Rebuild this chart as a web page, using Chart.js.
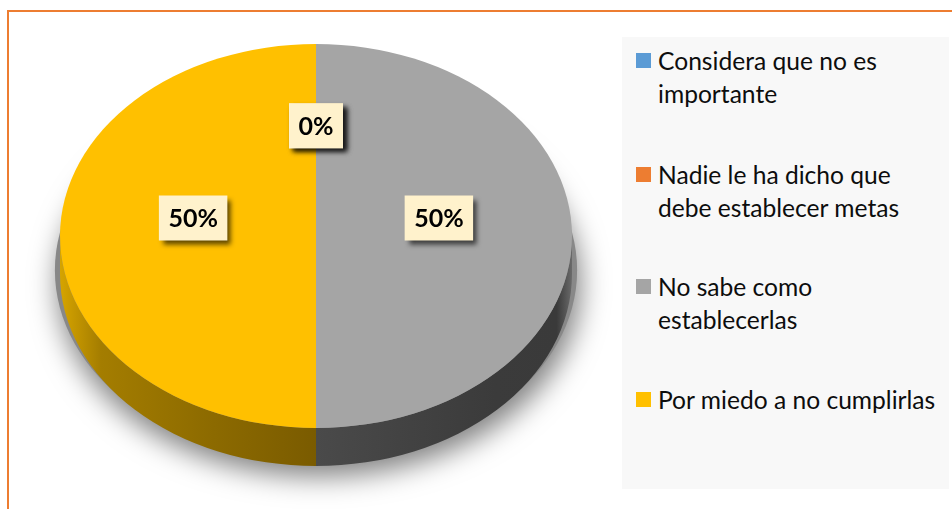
<!DOCTYPE html>
<html>
<head>
<meta charset="utf-8">
<script src="https://cdn.jsdelivr.net/npm/chart.js@4/dist/chart.umd.min.js"></script>
<style>
  html, body { margin: 0; padding: 0; background: #ffffff; }
  #wrap { position: relative; width: 952px; height: 509px; overflow: hidden; background: #ffffff; }
  #frame { position: absolute; left: 7px; top: 10px; width: 1000px; height: 600px;
           border-left: 2px solid #ED7D31; border-top: 2px solid #ED7D31; box-sizing: border-box; }
  #chart { position: absolute; left: 0; top: 0; }
  #legend { position: absolute; left: 622px; top: 37px; width: 327px; height: 452px; background: #F8F8F8;
            font-family: Lato, "Open Sans", sans-serif; font-size: 24.6px; color: #0d0d0d; }
  .item { position: absolute; left: 14px; line-height: 33px; white-space: nowrap; }
  .sw { position: absolute; left: 0; top: 9px; width: 15px; height: 15px; }
  .txt { position: absolute; left: 22px; top: 0; }
</style>
</head>
<body>
<div id="wrap">
  <div id="frame"></div>
  <canvas id="chart" width="952" height="509"></canvas>
  <div id="legend"></div>
</div>
<script>
// ---- data ----
const categories = [
  ['Considera que no es', 'importante'],
  ['Nadie le ha dicho que', 'debe establecer metas'],
  ['No sabe como', 'establecerlas'],
  ['Por miedo a no cumplirlas']
];
const values = [0, 0, 50, 50];
const colors = ['#5B9BD5', '#ED7D31', '#A5A5A5', '#FFC000'];
const sideColors = [
  ['#3f78ad', '#2f5f8c'],
  ['#c0601c', '#9a4a12'],
  ['#4a4a4a', '#3b3b3b'],
  ['#8c6a00', '#7a5b00']
];

// ---- layout of the 3D top face (screen pixels) ----
const PIE = { cx: 316, cy: 236, rx: 256, ry: 192, depth: 38 };
const LABEL = { frac: 0.48, lift: 18, padX: 9.5, h: 45, font: 'bold 25px Lato, "Open Sans", sans-serif' };

function applyTransform(ctx, arc) {
  const R = arc.outerRadius;
  ctx.translate(PIE.cx, PIE.cy);
  ctx.scale(PIE.rx / R, PIE.ry / R);
  ctx.translate(-arc.x, -arc.y);
}

const pie3d = {
  id: 'pie3d',
  beforeDatasetsDraw(chart) {
    const ctx = chart.ctx;
    const arcs = chart.getDatasetMeta(0).data;
    const a = arcs[0];
    const R = a.outerRadius, x = a.x, y = a.y;
    const d = PIE.depth * R / PIE.ry;
    ctx.save();
    applyTransform(ctx, a);
    // drop shadow under the pie
    ctx.save();
    ctx.shadowColor = 'rgba(0,0,0,0.5)';
    ctx.shadowBlur = 28;
    ctx.shadowOffsetX = 3;
    ctx.shadowOffsetY = 14;
    ctx.fillStyle = '#888';
    ctx.beginPath();
    ctx.ellipse(x, y + d * 0.9, R * 1.02, R * 1.0, 0, 0, Math.PI * 2);
    ctx.fill();
    ctx.restore();
    // side walls (front half only)
    arcs.forEach((arc, i) => {
      const s0 = arc.startAngle, e0 = arc.endAngle;
      if (e0 - s0 <= 0) return;
      for (let k = -1; k <= 1; k++) {
        const s = Math.max(s0 + 2 * Math.PI * k, 0);
        const e = Math.min(e0 + 2 * Math.PI * k, Math.PI);
        if (e <= s) continue;
        const g = ctx.createLinearGradient(x - R, 0, x + R, 0);
        if (i === 3) {
          g.addColorStop(0, '#d6a400');
          g.addColorStop(0.08, '#a47d00');
          g.addColorStop(0.3, sideColors[i][0]);
          g.addColorStop(0.5, sideColors[i][1]);
          g.addColorStop(1, sideColors[i][1]);
        } else if (i === 2) {
          g.addColorStop(0, sideColors[i][0]);
          g.addColorStop(0.5, sideColors[i][0]);
          g.addColorStop(0.85, sideColors[i][1]);
          g.addColorStop(0.97, '#3a3a3a');
          g.addColorStop(1, '#6a6a6a');
        } else {
          g.addColorStop(0, sideColors[i][0]);
          g.addColorStop(1, sideColors[i][1]);
        }
        ctx.fillStyle = g;
        ctx.beginPath();
        ctx.arc(x, y, R, s, e);
        ctx.arc(x, y + d, R, e, s, true);
        ctx.closePath();
        ctx.fill();
      }
    });
  },
  afterDatasetsDraw(chart) {
    chart.ctx.restore();
  },
  afterDraw(chart) {
    const ctx = chart.ctx;
    const arcs = chart.getDatasetMeta(0).data;
    const total = values.reduce((p, v) => p + v, 0);
    ctx.save();
    ctx.font = LABEL.font;
    ctx.textAlign = 'center';
    ctx.textBaseline = 'middle';
    arcs.forEach((arc, i) => {
      const R = arc.outerRadius;
      const mid = (arc.startAngle + arc.endAngle) / 2;
      const px = PIE.cx + Math.cos(mid) * R * LABEL.frac * PIE.rx / R;
      const py = PIE.cy + Math.sin(mid) * R * LABEL.frac * PIE.ry / R - LABEL.lift;
      const txt = Math.round(values[i] / total * 100) + '%';
      const w = ctx.measureText(txt).width + LABEL.padX * 2;
      ctx.save();
      ctx.shadowColor = 'rgba(0,0,0,0.65)';
      ctx.shadowBlur = 5;
      ctx.shadowOffsetX = 4;
      ctx.shadowOffsetY = 4;
      ctx.fillStyle = '#FFF2CC';
      ctx.fillRect(px - w / 2, py - LABEL.h / 2, w, LABEL.h);
      ctx.restore();
      ctx.fillStyle = '#000000';
      ctx.fillText(txt, px, py + 1);
    });
    ctx.restore();
  }
};

new Chart(document.getElementById('chart'), {
  type: 'pie',
  data: {
    labels: categories,
    datasets: [{
      data: values,
      backgroundColor: colors,
      borderWidth: 0,
      clip: false
    }]
  },
  options: {
    responsive: false,
    animation: false,
    devicePixelRatio: 1,
    events: [],
    plugins: { legend: { display: false }, tooltip: { enabled: false } }
  },
  plugins: [pie3d]
});

// ---- legend (HTML text) ----
const legendTops = [7, 121, 233, 346];
const lg = document.getElementById('legend');
categories.forEach((lines, i) => {
  const it = document.createElement('div');
  it.className = 'item';
  it.style.top = legendTops[i] + 'px';
  const sw = document.createElement('div');
  sw.className = 'sw';
  sw.style.background = colors[i];
  const tx = document.createElement('div');
  tx.className = 'txt';
  tx.innerHTML = lines.map(l => l.replace(/&/g, '&amp;').replace(/</g, '&lt;')).join('<br>');
  it.appendChild(sw);
  it.appendChild(tx);
  lg.appendChild(it);
});
</script>
</body>
</html>
